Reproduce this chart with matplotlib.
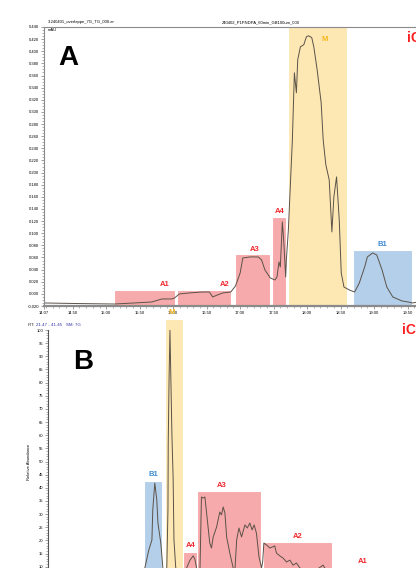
import numpy as np
import matplotlib
matplotlib.use('Agg')
import matplotlib.pyplot as plt
from matplotlib.ticker import MultipleLocator

plt.rcParams['font.family'] = ['Liberation Sans', 'DejaVu Sans']

# ---- panel A: UV trace (time in min, absorbance in AU)
a_time = [14.07, 14.60, 15.12, 15.42, 15.68, 15.83, 15.98, 16.02, 16.09, 16.24,
          16.43, 16.54, 16.59, 16.66, 16.74, 16.86, 16.93, 17.00, 17.04, 17.15,
          17.27, 17.32, 17.37, 17.45, 17.52, 17.55, 17.58, 17.60, 17.63, 17.65,
          17.68, 17.69, 17.72, 17.78, 17.81, 17.84, 17.86, 17.90, 17.95, 17.99,
          18.02, 18.05, 18.07, 18.10, 18.15, 18.21, 18.24, 18.28, 18.33, 18.37,
          18.40, 18.44, 18.48, 18.51, 18.55, 18.63, 18.71, 18.78, 18.86, 18.90,
          18.98, 19.04, 19.12, 19.19, 19.28, 19.42, 19.51, 19.57, 19.66, 19.71,
          19.90]
a_signal = [-0.015, -0.016, -0.0167, -0.015, -0.0134, -0.0084, -0.0084, -0.0068, -0.0002, 0.0015,
            0.0031, 0.0031, -0.0051, -0.0018, 0.0015, 0.0031, 0.013, 0.0345, 0.0592, 0.0609,
            0.0609, 0.0559, 0.0394, 0.0262, 0.0229, 0.0279, 0.0526, 0.0444, 0.1186, 0.0889,
            0.0279, 0.0559, 0.1054, 0.254, 0.3645, 0.3315, 0.386, 0.4074, 0.4107, 0.4239,
            0.4255, 0.4239, 0.4222, 0.4074, 0.3694, 0.315, 0.254, 0.2127, 0.188, 0.1021,
            0.16, 0.1929, 0.1219, 0.0345, 0.0114, 0.0064, 0.0031, 0.018, 0.0444, 0.0609,
            0.0675, 0.0642, 0.0394, 0.0114, -0.0051, -0.0118, -0.0134, -0.015, -0.0134, -0.0101,
            -0.012]

a_names = ['A1', 'A2', 'A3', 'A4', 'M', 'B1', 'B2']
a_start = [15.12, 16.06, 16.93, 17.48, 17.71, 18.68, 19.63]
a_end = [16.03, 16.87, 17.45, 17.68, 18.60, 19.57, 20.30]
a_top = [0.0064, 0.0064, 0.0658, 0.1269, 0.440, 0.0724, 0.0064]
a_label_t = [15.87, 16.77, 17.21, 17.59, 18.27, 19.13, 19.96]
a_label_v = [0.0147, 0.0147, 0.0727, 0.1358, 0.419, 0.0815, 0.015]

# ---- panel B: MS trace (time in min, relative abundance)
b_time = [21.47, 24.70, 24.86, 24.99, 25.10, 25.13, 25.20, 25.27, 25.31, 25.41,
          25.48, 25.54, 25.62, 25.66, 25.67, 25.70, 25.73, 25.76, 25.80, 25.84,
          25.87, 25.93, 26.01, 26.31, 26.43, 26.54, 26.60, 26.66, 26.72, 26.78,
          26.83, 26.89, 26.95, 27.01, 27.12, 27.18, 27.24, 27.36, 27.47, 27.53,
          27.59, 27.65, 27.71, 27.82, 27.94, 27.99, 28.06, 28.14, 28.23, 28.35,
          28.43, 28.52, 28.60, 28.67, 28.75, 28.84, 28.93, 28.97, 29.01, 29.10,
          29.22, 29.31, 29.39, 29.45, 29.57, 29.68, 29.80, 29.92, 30.03, 30.15,
          30.27, 30.61, 31.08, 31.14, 31.66, 36.0, 41.45]
b_signal = [1, 3, 9.9, 16.3, 20.2, 31.6, 41.8, 35.4, 26.6, 19.0,
            9.9, 4, 9.9, 31.6, 57.0, 82.1, 100, 82.1, 59.3, 44.1,
            20.2, 9.9, 5, 9.5, 12.5, 14.1, 12.9, 9.5, 5, 9.5,
            36.5, 36.1, 36.5, 30.4, 19.0, 17.1, 21.3, 25.1, 30.8, 29.7,
            32.7, 30.4, 21.3, 15.2, 9.5, 7, 20.2, 24.7, 21.3, 25.9,
            24.7, 26.6, 24.0, 25.9, 22.8, 13.7, 9.5, 12, 19.0, 18.3,
            17.1, 17.5, 17.9, 15.2, 14.1, 13.3, 11.8, 12.5, 10.6, 11.4,
            9.5, 7, 10.6, 9.5, 5, 3, 2]

b_names = ['B1', 'M', 'A4', 'A3', 'A2', 'A1']
b_start = [24.83, 25.56, 26.19, 26.69, 28.97, 31.66]
b_end = [25.46, 26.17, 26.68, 28.90, 31.38, 33.75]
b_top = [42.6, 104, 15.6, 38.8, 19.4, 8.5]
b_label_t = [25.14, 25.80, 26.46, 27.54, 30.20, 32.46]
b_label_v = [45.2, 106.8, 17.9, 40.7, 21.3, 11.8]

box_colors = {'A': '#f7aaab', 'M': '#fde8b4', 'B': '#b3cfea'}
text_colors = {'A': '#ee2a2f', 'M': '#f6b81c', 'B': '#3d8ad0'}

fig = plt.figure(figsize=(4.16, 5.68), dpi=100)
W, H = 416, 568


def px_axes(left, top, right, bottom):
    return fig.add_axes([left / W, (H - bottom) / H, (right - left) / W, (bottom - top) / H])


def style_axis(ax):
    for s in ['left', 'top', 'bottom', 'right']:
        ax.spines[s].set_color('#8a8a8a')
    ax.tick_params(which='both', labelsize=3, color='#777777', pad=1)
    ax.tick_params(which='major', length=2.5, width=0.5)
    ax.tick_params(which='minor', length=1.2, width=0.4)


# ---------------- panel A
axA = px_axes(44, 27, 441, 306)
ybot = -0.020
for n, s, e, t in zip(a_names, a_start, a_end, a_top):
    axA.bar(s, t - ybot, width=e - s, bottom=ybot, align='edge',
            color=box_colors[n[0]], edgecolor='white', linewidth=0.8, zorder=1)
for n, t, v in zip(a_names, a_label_t, a_label_v):
    axA.text(t, v, n, color=text_colors[n[0]], fontsize=5.5, fontweight='bold',
             ha='center', va='center', zorder=3)
axA.plot(a_time, a_signal, color='#5b5248', lw=0.7, zorder=2)
axA.set_xlim(14.07, 20.0)
axA.set_ylim(ybot, 0.440)
axA.set_xticks([14.07] + list(np.arange(14.5, 20.0, 0.5)))
axA.xaxis.set_major_formatter(plt.FuncFormatter(lambda x, p: f'{x:.2f}'))
axA.xaxis.set_minor_locator(MultipleLocator(0.1))
axA.set_yticks(np.arange(-0.02, 0.441, 0.02))
axA.yaxis.set_major_formatter(plt.FuncFormatter(lambda y, p: f'{y:.3f}'))
axA.yaxis.set_minor_locator(MultipleLocator(0.005))
style_axis(axA)
axA.spines['right'].set_visible(False)
axA.spines['bottom'].set_linewidth(1.6)
axA.spines['top'].set_linewidth(0.8)
axA.text(0.01, 0.995, 'mAU', transform=axA.transAxes, fontsize=3, va='top', ha='left')
fig.text(48 / W, 1 - 22 / H, '3-240401_overlappe_7G_TG_000.ar', fontsize=3, va='center')
fig.text(222 / W, 1 - 22 / H, '240402_P1PNDPA_60min_GB100um_000', fontsize=3, va='center')
fig.text(68 / W, 1 - 58 / H, 'A', fontsize=20, fontweight='bold', ha='center', va='center')
fig.text(407 / W, 1 - 38 / H, 'iCIEF', fontsize=10, fontweight='bold', color='#ff1f1f',
         ha='left', va='center')

# ---------------- panel B
axB = px_axes(48, 330, 620, 593)
for n, s, e, t in zip(b_names, b_start, b_end, b_top):
    axB.bar(s, t, width=e - s, bottom=0, align='edge', color=box_colors[n[0]],
            edgecolor='white', linewidth=0.8, zorder=1, clip_on=False)
for n, t, v in zip(b_names, b_label_t, b_label_v):
    axB.text(t, v, n, color=text_colors[n[0]], fontsize=5.5, fontweight='bold',
             ha='center', va='center', zorder=3, clip_on=False)
axB.plot(b_time, b_signal, color='#5b5248', lw=0.7, zorder=2)
axB.set_xlim(21.47, 41.45)
axB.set_ylim(0, 100)
axB.set_yticks(np.arange(0, 101, 5))
axB.yaxis.set_minor_locator(MultipleLocator(1))
axB.xaxis.set_minor_locator(MultipleLocator(0.5))
style_axis(axB)
axB.spines['top'].set_visible(False)
axB.spines['right'].set_visible(False)
axB.spines['left'].set_color('#555555')
axB.set_ylabel('Relative Abundance', fontsize=3, labelpad=4)
fig.text(28 / W, 1 - 325 / H, 'RT: ', fontsize=3.2, color='#333333', va='center')
fig.text(36 / W, 1 - 325 / H, '21.47 - 41.45', fontsize=3.2, color='#3333aa', va='center')
fig.text(66 / W, 1 - 325 / H, 'SM: 7G', fontsize=3.2, color='#3333aa', va='center')
fig.text(83 / W, 1 - 362 / H, 'B', fontsize=20, fontweight='bold', ha='center', va='center')
fig.text(402 / W, 1 - 330 / H, 'iCIEF-MS', fontsize=10, fontweight='bold', color='#ff1f1f',
         ha='left', va='center')

fig.savefig('out.png', dpi=100)
